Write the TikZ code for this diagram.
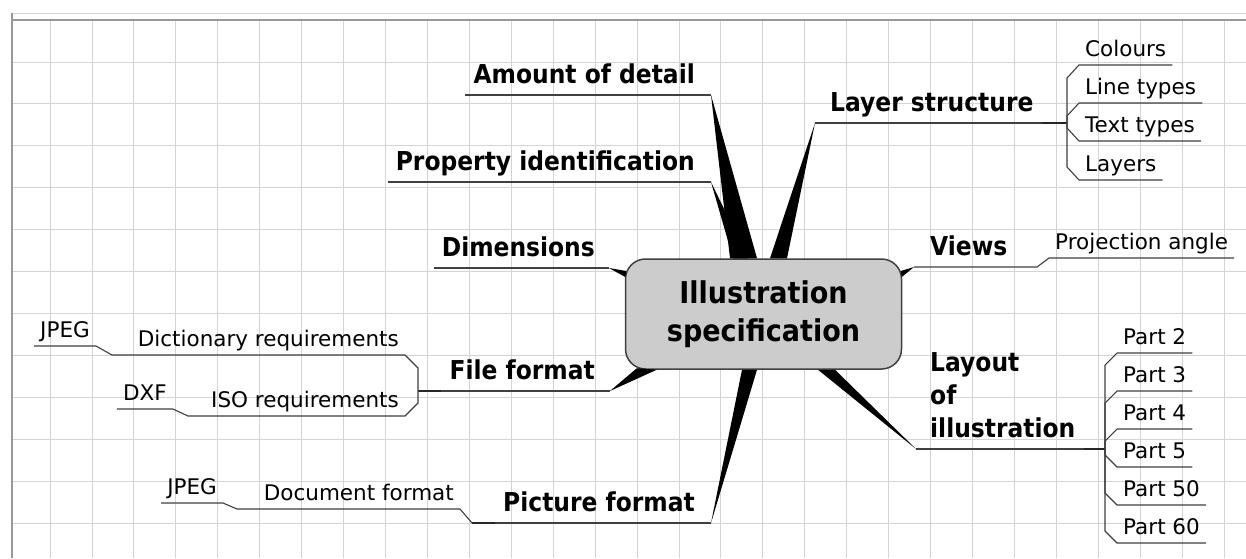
\documentclass[tikz,border=0pt]{standalone}
\usepackage{fontspec}
\setmainfont{DejaVu Sans}
\newfontfamily\condfont[FakeStretch=0.9]{DejaVu Sans}
\usetikzlibrary{calc}
\newcommand{\hubfont}{\condfont\bfseries\fontsize{30}{38}\selectfont}
\newcommand{\topicfont}{\condfont\bfseries\fontsize{26}{33}\selectfont}
\newcommand{\leaffont}{\fontsize{21.5}{26}\selectfont}

\begin{document}
\begin{tikzpicture}[x=1pt, y=-1pt,
    hub/.style={draw=black!75, line width=1.5pt, fill=black!20, rounded corners=20pt,
        minimum width=276pt, minimum height=110pt, align=center, font=\hubfont},
    topic/.style={inner xsep=8pt, inner ysep=0pt, text depth=11pt, align=left, font=\topicfont},
    leaf/.style={inner xsep=6pt, inner ysep=0pt, text depth=8.5pt, font=\leaffont},
    spoke/.style={fill=black},
    twig/.style={draw=black!75, line width=1.1pt},
    knot/.style={draw=black!85, line width=2.4pt},
    gridline/.style={draw=black!17, line width=0.8pt},
    frame/.style={draw=black!40, line width=1.2pt},
]
\fill[white] (0,0) rectangle (1246,558);
\useasboundingbox (0,0) rectangle (1246,558);

% squared paper
\foreach \i in {0,...,28}
    \draw[gridline] ({50+41.93*\i},20) -- ({50+41.93*\i},558);
\foreach \j in {1,...,12}
    \draw[gridline] (12,{20+41.93*\j}) -- (1246,{20+41.93*\j});
\draw[gridline] (12,13) -- (1246,13);
\draw[frame] (12,20) -- (1246,20);
\draw[frame] (12,13) -- (12,558);

\node[hub] (spec) at (763.5,314) {Illustration\\specification};

\node[topic, anchor=south east] (amount) at (703,95) {Amount of detail};
\node[topic, anchor=south east] (property) at (703,182) {Property identification};
\node[topic, anchor=south east] (dims) at (603,268) {Dimensions};
\node[topic, anchor=south east] (file) at (603,391) {File format};
\node[topic, anchor=south east] (picture) at (703,523) {Picture format};
\node[topic, anchor=south west] (layer) at (822,123) {Layer structure};
\node[topic, anchor=south west] (views) at (922,267) {Views};
\node[topic, anchor=south west] (layout) at (922,449) {Layout\\of\\illustration};

\node[leaf, anchor=south west] (colours) at (1079,65) {Colours};
\node[leaf, anchor=south west] (linetypes) at (1079,103) {Line types};
\node[leaf, anchor=south west] (texttypes) at (1079,141) {Text types};
\node[leaf, anchor=south west] (layers) at (1079,180) {Layers};
\node[leaf, anchor=south west] (projection) at (1049,258) {Projection angle};
\foreach \p/\y in {2/353, 3/391, 4/429, 5/467, 50/505, 60/543}
    \node[leaf, anchor=south west] (part\p) at (1117,\y) {Part \p};
\node[leaf, anchor=south east] (dictionary) at (405,355) {Dictionary requirements};
\node[leaf, anchor=south east] (iso) at (405,416) {ISO requirements};
\node[leaf, anchor=south east] (jpega) at (96,346) {JPEG};
\node[leaf, anchor=south east] (dxf) at (173,409) {DXF};
\node[leaf, anchor=south east] (document) at (460,509) {Document format};
\node[leaf, anchor=south east] (jpegb) at (223,503) {JPEG};

\coordinate (amount-tip) at ([xshift=8pt]amount.south east);
\coordinate (property-tip) at ([xshift=8pt]property.south east);
\coordinate (dims-tip) at ([xshift=6pt]dims.south east);
\coordinate (file-tip) at ([xshift=7pt]file.south east);
\coordinate (picture-tip) at ([xshift=8pt]picture.south east);
\coordinate (layer-tip) at ([xshift=-7pt]layer.south west);
\coordinate (views-tip) at ([xshift=-8pt]views.south west);
\coordinate (layout-tip) at ([xshift=-6pt]layout.south west);
\coordinate (file-j) at ($(dictionary.south east |- file.south west)+(13,0)$);
\coordinate (picture-j) at ($(document.south east |- picture.south west)+(12,0)$);
\coordinate (layer-j) at ($(colours.south west |- layer.south east)+(-12,0)$);
\coordinate (views-j) at ($(projection.south west |- views.south east)+(-12,0)$);
\coordinate (layout-j) at ($(part2.south west |- layout.south east)+(-12,0)$);

\fill[spoke] (amount-tip) -- ([xshift=-33.5pt]spec.north) -- ([xshift=-6.5pt]spec.north) -- cycle;
\fill[spoke] (property-tip) -- ([xshift=-30.5pt]spec.north) -- ([xshift=-15.5pt]spec.north) -- cycle;
\fill[spoke] (layer-tip) -- ([xshift=6.5pt]spec.north) -- ([xshift=23.5pt]spec.north) -- cycle;
\fill[spoke] (dims-tip) -- ([shift={(1.5,-43)}]spec.west) -- ([shift={(0.5,-37)}]spec.west) -- cycle;
\fill[spoke] (views-tip) -- ([shift={(-1.5,-43)}]spec.east) -- ([shift={(-0.5,-37)}]spec.east) -- cycle;
\fill[spoke] (file-tip) -- ([shift={(12,-1.5)}]spec.south west) -- ([xshift=32pt]spec.south west) -- cycle;
\fill[spoke] (picture-tip) -- ([xshift=-21.5pt]spec.south) -- ([xshift=-6.5pt]spec.south) -- cycle;
\fill[spoke] (layout-tip) -- ([xshift=54.5pt]spec.south) -- ([xshift=71.5pt]spec.south) -- cycle;

\draw[twig] (amount.south west) -- (amount-tip);
\draw[twig] (property.south west) -- (property-tip);
\draw[twig] (dims.south west) -- (dims-tip);
\draw[twig] (file.south west) -- (file-tip);
\draw[knot] (file-j) -- (file.south west);
\draw[twig] (picture.south west) -- (picture-tip);
\draw[knot] (picture-j) -- (picture.south west);
\draw[twig] (layer-tip) -- (layer.south east);
\draw[knot] (layer.south east) -- (layer-j);
\draw[twig] (views-tip) -- (views.south east) -- (views-j) -- (projection.south west) -- (projection.south east);
\draw[twig] (layout-tip) -- (layout.south east);
\draw[knot] (layout.south east) -- (layout-j);

\foreach \c in {colours, linetypes}
    \draw[twig] (layer-j) -- ($(layer-j |- \c.south west)+(0,13)$) -- (\c.south west) -- (\c.south east);
\foreach \c in {texttypes, layers}
    \draw[twig] (layer-j) -- ($(layer-j |- \c.south west)+(0,-13)$) -- (\c.south west) -- (\c.south east);
\foreach \p in {2, 3, 4}
    \draw[twig] (layout-j) -- ($(layout-j |- part\p.south west)+(0,12)$) -- (part\p.south west) -- (part\p.south east);
\foreach \p in {5, 50, 60}
    \draw[twig] (layout-j) -- ($(layout-j |- part\p.south west)+(0,-12)$) -- (part\p.south west) -- (part\p.south east);

\draw[twig] (file-j) -- ($(file-j |- dictionary.south east)+(0,13)$) -- (dictionary.south east) -- (dictionary.south west)
    -- ($(jpega.south east |- dictionary.south west)+(16,0)$) -- (jpega.south east) -- (jpega.south west);
\draw[twig] (file-j) -- ($(file-j |- iso.south east)+(0,-13)$) -- (iso.south east) -- (iso.south west)
    -- ($(dxf.south east |- iso.south west)+(15,0)$) -- (dxf.south east) -- (dxf.south west);
\draw[twig] (picture-j) -- (document.south east) -- (document.south west)
    -- ($(jpegb.south east |- document.south west)+(14,0)$) -- (jpegb.south east) -- (jpegb.south west);

\end{tikzpicture}
\end{document}
